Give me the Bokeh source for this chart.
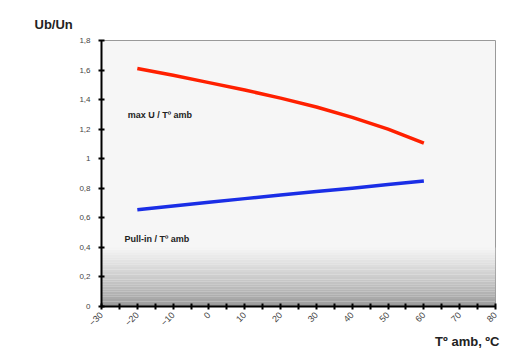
import numpy as np
from bokeh.plotting import figure
from bokeh.models import Range1d, FixedTicker, Label, Title
from bokeh.embed import file_html
from bokeh.resources import INLINE
from math import pi

# ---- data ----
temps = [-20, -10, 0, 10, 20, 30, 40, 50, 60]
max_u = [1.61, 1.565, 1.515, 1.465, 1.41, 1.35, 1.28, 1.20, 1.105]
pull_in = [0.655, 0.68, 0.705, 0.73, 0.755, 0.778, 0.80, 0.825, 0.85]
x_ticks = [-30, -20, -10, 0, 10, 20, 30, 40, 50, 60, 70, 80]
x_minor = [-25, -15, -5, 5, 15, 25, 35, 45, 55, 65, 75]
y_ticks = [0, 0.2, 0.4, 0.6, 0.8, 1.0, 1.2, 1.4, 1.6, 1.8]
y_tick_labels = ["0", "0,2", "0,4", "0,6", "0,8", "1", "1,2", "1,4", "1,6", "1,8"]

p = figure(width=507, height=348, output_backend="svg", toolbar_location=None,
           x_range=Range1d(-30, 80), y_range=Range1d(0, 1.8),
           min_border_left=101, min_border_right=12, min_border_top=40, min_border_bottom=41)
p.background_fill_color = "#f6f6f6"
p.border_fill_color = "white"
p.outline_line_color = "#9a9a9a"
p.outline_line_width = 1
p.grid.visible = False

# title (y-axis name) top-left
p.title.text = "Ub/Un"
p.title.align = "left"
p.title.offset = -67
p.title.text_font = "Liberation Sans"
p.title.text_font_style = "bold"
p.title.text_font_size = "13px"
p.title.text_color = "#222222"
p.title.standoff = 17

# x-axis name bottom-right
p.add_layout(Title(text="Tº amb, ºC", align="right", offset=-4,
                   text_font="Liberation Sans", text_font_style="bold",
                   text_font_size="13px", text_color="#222222", standoff=0), "below")

# gradient at bottom of plot area (style only)
n = 24
edges = np.linspace(0, 0.40, n + 1)
for i in range(n):
    t = (i + 0.5) / n  # 0 bottom -> 1 top
    g = int(150 + (246 - 150) * (t ** 0.8))
    col = "#%02x%02x%02x" % (g, g, g)
    p.quad(left=-30, right=80, bottom=edges[i], top=edges[i + 1],
           fill_color=col, line_color=None)

p.line(temps, max_u, line_color="#ff2000", line_width=3.5, line_join="round")
p.line(temps, pull_in, line_color="#1a2ee6", line_width=3.5, line_join="round")

# axes
for ax in (p.xaxis[0], p.yaxis[0]):
    ax.axis_line_color = "black"
    ax.axis_line_width = 2
    ax.major_tick_line_color = "black"
    ax.major_tick_line_width = 2
    ax.major_tick_in = 3
    ax.major_tick_out = 3
    ax.minor_tick_line_color = "black"
    ax.minor_tick_line_width = 2
    ax.minor_tick_in = 3
    ax.minor_tick_out = 3
    ax.major_label_text_font = "Liberation Sans"
    ax.major_label_text_font_size = "8px"
    ax.major_label_text_color = "#444444"

p.xaxis.ticker = FixedTicker(ticks=x_ticks, minor_ticks=x_minor)
p.xaxis.major_label_orientation = pi / 4
p.xaxis.major_label_standoff = 4
p.xaxis.major_label_text_font_size = "9px"
p.yaxis.ticker = FixedTicker(ticks=y_ticks)
p.yaxis.major_label_overrides = {v: s for v, s in zip(y_ticks, y_tick_labels)}
p.yaxis.major_label_standoff = 8

# in-plot annotations
p.add_layout(Label(x=-22.7, y=1.295, text="max U / Tº amb", text_font="Liberation Sans",
                   text_font_style="bold", text_font_size="9px", text_color="#222222",
                   text_baseline="middle"))
p.add_layout(Label(x=-23.6, y=0.459, text="Pull-in / Tº amb", text_font="Liberation Sans",
                   text_font_style="bold", text_font_size="9px", text_color="#222222",
                   text_baseline="middle"))

open("out.html", "w").write(file_html(p, INLINE))
